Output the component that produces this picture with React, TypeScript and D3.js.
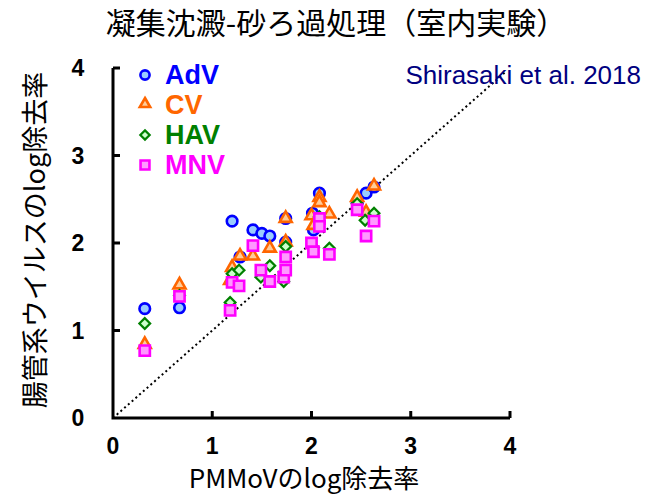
import React from "react";
import * as d3 from "d3";

const ticks = [0, 1, 2, 3, 4];
const seriesNames = ["AdV", "CV", "HAV", "MNV"];

const advX = [0.32, 0.67, 1.2, 1.28, 1.41, 1.5, 1.58, 1.74, 1.74, 2.01, 2.02, 2.08, 2.46, 2.55, 2.63];
const advY = [1.25, 1.26, 2.25, 1.84, 2.15, 2.11, 2.08, 2.28, 2.01, 2.34, 2.15, 2.57, 2.47, 2.57, 2.64];

const cvX = [0.32, 0.67, 1.2, 1.18, 1.28, 1.41, 1.58, 1.74, 1.74, 2.0, 2.02, 2.08, 2.08, 2.18, 2.46, 2.55, 2.63];
const cvY = [0.83, 1.51, 1.71, 1.56, 1.84, 1.84, 1.93, 2.27, 2.0, 2.3, 2.19, 2.51, 2.45, 2.32, 2.51, 2.34, 2.64];

const havX = [0.32, 0.67, 1.18, 1.2, 1.27, 1.49, 1.58, 1.72, 1.74, 2.02, 2.18, 2.46, 2.54, 2.63, 2.08];
const havY = [1.08, 1.4, 1.32, 1.65, 1.69, 1.61, 1.74, 1.56, 1.96, 1.95, 1.94, 2.45, 2.26, 2.34, 2.3];

const mnvX = [0.32, 0.67, 1.18, 1.2, 1.27, 1.41, 1.49, 1.58, 1.72, 1.74, 1.74, 2.0, 2.02, 2.08, 2.08, 2.18, 2.46, 2.55, 2.63];
const mnvY = [0.77, 1.39, 1.23, 1.55, 1.51, 1.97, 1.69, 1.56, 1.61, 1.69, 1.84, 2.0, 1.9, 2.28, 2.19, 1.87, 2.38, 2.08, 2.25];

const styles = [
  { fill: "#99ccff", stroke: "#0000ff", text: "#0000ff", shape: "circle" },
  { fill: "#ffcc99", stroke: "#ff6600", text: "#ff6600", shape: "triangle" },
  { fill: "#ccffcc", stroke: "#008000", text: "#008000", shape: "diamond" },
  { fill: "#ff99ff", stroke: "#ff00ff", text: "#ff00ff", shape: "square" },
];

const symbolTypes: Record<string, any> = {
  circle: d3.symbolCircle,
  triangle: d3.symbolTriangle,
  diamond: d3.symbolSquare,
  square: d3.symbolSquare,
};

function markerPath(shape: string, size: number) {
  return d3.symbol().type(symbolTypes[shape]).size(size)() as string;
}

function Marker({ shape, x, y, scale, fill, stroke }: any) {
  let size = 88 * scale;
  if (shape === "square") size = 105 * scale;
  if (shape === "triangle") size = 62 * scale;
  if (shape === "diamond") size = 58 * scale;
  const rot = shape === "diamond" ? 45 : 0;
  const dy = shape === "triangle" ? -1 : 0;
  return (
    <path
      d={markerPath(shape, size)}
      transform={`translate(${x},${y + dy}) rotate(${rot})`}
      fill={fill}
      stroke={stroke}
      strokeWidth={shape === "diamond" ? 2.2 : 2.6}
      strokeLinejoin="miter"
    />
  );
}

export default function App() {
  const x = d3.scaleLinear().domain([0, 4]).range([113, 510]);
  const y = d3.scaleLinear().domain([0, 4]).range([418, 68]);
  const data = [
    advX.map((v, i) => [v, advY[i]]),
    cvX.map((v, i) => [v, cvY[i]]),
    havX.map((v, i) => [v, havY[i]]),
    mnvX.map((v, i) => [v, mnvY[i]]),
  ];
  const font = "Arial, 'Liberation Sans', sans-serif";
  const jp = "'Noto Sans CJK JP', sans-serif";
  return (
    <svg width={660} height={494} style={{ position: "absolute", left: 0, top: 0 }}>
      <rect width={660} height={494} fill="#fff" />
      <text x={336} y={34} textAnchor="middle" fontFamily={jp} fontSize={30} fill="#000">
        凝集沈澱-砂ろ過処理（室内実験）
      </text>
      {/* diagonal */}
      <line
        x1={x(0)} y1={y(0)} x2={x(3.95)} y2={y(3.95)}
        stroke="#000" strokeWidth={2} strokeDasharray="2 3"
      />
      {/* axes */}
      <path
        d={`M${x(0)},${y(4)} V${y(0)} H${x(4)}`}
        fill="none" stroke="#000" strokeWidth={3}
      />
      {ticks.slice(1).map((t) => (
        <g key={"t" + t}>
          <line x1={x(t)} x2={x(t)} y1={y(0)} y2={y(0) - 7} stroke="#000" strokeWidth={3} />
          <line x1={x(0)} x2={x(0) + 7} y1={y(t)} y2={y(t)} stroke="#000" strokeWidth={3} />
        </g>
      ))}
      {ticks.map((t) => (
        <g key={"l" + t}>
          <text x={x(t)} y={454} textAnchor="middle" fontFamily={font} fontWeight="bold" fontSize={23}>
            {t}
          </text>
          <text x={78} y={y(t) + 8} textAnchor="middle" fontFamily={font} fontWeight="bold" fontSize={23}>
            {t}
          </text>
        </g>
      ))}
      <text x={304} y={488} textAnchor="middle" fontFamily={jp} fontSize={26}>
        PMMoVのlog除去率
      </text>
      <text
        transform={`translate(45,${240}) rotate(-90)`}
        textAnchor="middle" fontFamily={jp} fontSize={27}
      >
        腸管系ウイルスのlog除去率
      </text>
      <text x={641} y={84} textAnchor="end" fontFamily={font} fontSize={26} fill="#000080">
        Shirasaki et al. 2018
      </text>
      {/* points */}
      {data.map((pts, si) =>
        pts.map((p, i) => (
          <Marker
            key={si + "-" + i}
            shape={styles[si].shape}
            x={x(p[0])}
            y={y(p[1])}
            scale={1}
            fill={styles[si].fill}
            stroke={styles[si].stroke}
          />
        ))
      )}
      {/* legend */}
      {seriesNames.map((name, i) => (
        <g key={name}>
          <Marker
            shape={styles[i].shape}
            x={145}
            y={75 + i * 30}
            scale={0.75}
            fill={styles[i].fill}
            stroke={styles[i].stroke}
          />
          <text x={165} y={84 + i * 30} fontFamily={font} fontWeight="bold" fontSize={27} fill={styles[i].text}>
            {name}
          </text>
        </g>
      ))}
    </svg>
  );
}
